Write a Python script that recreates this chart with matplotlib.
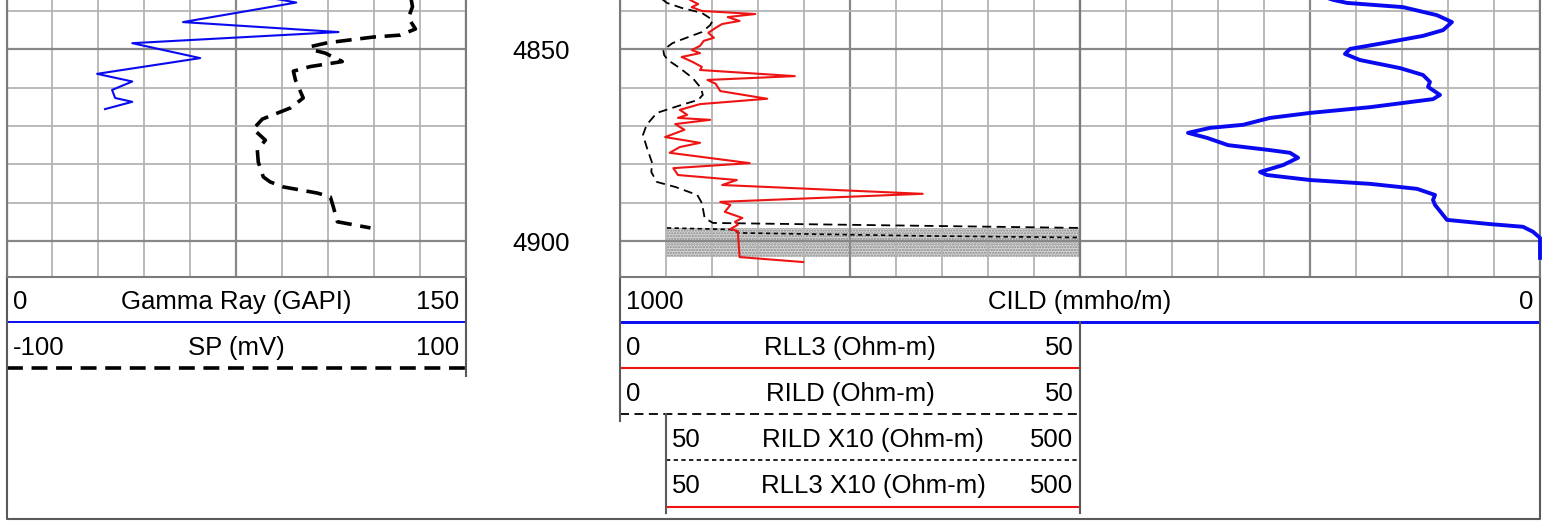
import numpy as np
import matplotlib
matplotlib.use("Agg")
import matplotlib.pyplot as plt
from matplotlib.ticker import MultipleLocator, FixedLocator

plt.rcParams['font.family'] = ['Liberation Sans', 'DejaVu Sans']
plt.rcParams['hatch.linewidth'] = 1.1

# ---------------- data ----------------
depth_top = 4837.14
depth_bottom = 4909.4
depth_labels = [4850, 4900]

gr_range = (0, 150)
sp_range = (-100, 100)
res_range = (0, 50)
res10_range = (50, 500)
cild_range = (1000, 0)

gr_depth = [4836.3, 4837.1, 4837.8, 4842.9, 4845.5, 4848.4, 4852.3, 4856.4,
            4858.4, 4860.6, 4862.7, 4863.7, 4865.6]
gr_value = [84.0, 89.8, 94.7, 57.7, 108.5, 41.1, 63.3, 29.6,
            41.1, 34.5, 35.5, 41.1, 32.2]

sp_depth = [4835.8, 4838.9, 4841.8, 4844.7, 4846.3, 4846.8, 4848.3, 4849.3,
            4850.2, 4851.0, 4853.2, 4854.5, 4855.7, 4858.0, 4862.7, 4865.3,
            4868.2, 4870.8, 4873.7, 4876.3, 4879.4, 4883.3, 4884.6, 4885.9,
            4887.5, 4888.5, 4891.1, 4895.0, 4896.6]
sp_value = [76.0, 76.9, 75.1, 78.2, 71.6, 59.9, 39.8, 32.4,
            33.7, 38.9, 46.3, 32.4, 25.0, 25.9, 29.3, 23.7,
            11.5, 7.5, 12.8, 9.3, 9.7, 11.9, 14.9, 20.6,
            35.4, 41.1, 42.4, 44.2, 58.6]

rll3_depth = [4836.4, 4837.1, 4838.2, 4839.0, 4840.0, 4840.8, 4841.6, 4842.6,
              4843.4, 4844.4, 4845.7, 4847.0, 4847.8, 4849.1, 4850.2, 4851.0,
              4852.0, 4853.3, 4854.6, 4855.4, 4857.0, 4858.0, 4859.0, 4860.9,
              4862.9, 4864.3, 4865.8, 4867.1, 4867.9, 4868.4, 4869.5, 4871.0,
              4872.9, 4874.4, 4875.5, 4877.0, 4879.7, 4881.0, 4882.8, 4884.1,
              4885.4, 4887.7, 4889.8, 4890.6, 4892.4, 4894.0, 4895.0, 4895.8,
              4896.9, 4897.4, 4904.2, 4905.5]
rll3_value = [7.4, 7.6, 8.5, 7.8, 8.9, 14.7, 11.7, 13.0,
              11.1, 10.4, 9.6, 10.2, 9.1, 8.7, 7.8, 8.7,
              6.7, 7.9, 8.9, 8.7, 19.0, 9.5, 10.4, 10.9,
              16.0, 8.7, 6.5, 7.3, 6.3, 9.8, 6.0, 7.0,
              4.9, 8.7, 6.5, 5.4, 14.1, 5.8, 6.3, 12.7,
              11.1, 32.9, 10.9, 12.0, 11.4, 13.3, 12.5, 12.8,
              12.0, 12.8, 13.0, 19.9]

rild_depth = [4836.4, 4837.9, 4839.2, 4840.5, 4842.4, 4843.7, 4845.5, 4847.1,
              4848.4, 4850.2, 4851.5, 4852.8, 4854.9, 4857.5, 4860.1, 4861.9,
              4863.2, 4864.5, 4866.6, 4869.7, 4872.3, 4875.5, 4879.7, 4882.0,
              4884.6, 4885.9, 4888.0, 4890.1, 4894.0, 4895.3, 4896.6, 4896.8,
              4905.0]
rild_value = [4.3, 5.1, 6.7, 8.9, 10.1, 9.8, 8.9, 7.1,
              5.7, 4.7, 4.8, 5.2, 6.5, 7.9, 8.8, 9.0,
              8.5, 6.7, 4.0, 2.9, 2.5, 2.9, 3.5, 3.4,
              4.0, 6.0, 8.4, 8.9, 9.2, 10.1, 50.0, 60.0,
              60.0]

rild10_depth = [4896.6, 4897.0, 4897.9, 4898.7, 4899.1, 4899.3, 4905.0]
rild10_value = [51.0, 120.0, 130.0, 337.0, 500.0, 600.0, 600.0]

shade_depth = [4896.7, 4904.3]
shade_value = [50.0, 500.0]

cild_depth = [4836.4, 4837.1, 4837.9, 4839.0, 4841.1, 4842.9, 4845.0, 4846.5,
              4848.4, 4849.9, 4851.2, 4852.8, 4854.9, 4856.7, 4858.5, 4859.8,
              4861.9, 4863.0, 4865.1, 4866.6, 4867.9, 4869.7, 4870.5, 4871.8,
              4873.1, 4875.0, 4876.3, 4877.0, 4878.3, 4880.2, 4882.0, 4882.8,
              4884.1, 4885.1, 4886.4, 4888.0, 4889.3, 4890.6, 4894.5, 4895.6,
              4896.3, 4897.6, 4899.2, 4904.4]
cild_value = [233.7, 225.0, 209.8, 148.9, 112.0, 95.7, 105.4, 127.2,
              170.7, 206.5, 212.0, 195.7, 152.2, 127.2, 119.6, 121.7,
              108.7, 116.3, 184.8, 250.0, 293.5, 322.8, 358.7, 382.6,
              362.0, 339.1, 293.5, 271.7, 263.0, 279.3, 304.3, 296.7,
              250.0, 184.8, 133.7, 114.1, 116.3, 114.1, 101.1, 54.3,
              18.5, 7.6, 0.0, 0.0]

# ---------------- styles ----------------
BLUE = '#0a0af0'
RED = '#ee1414'
GR_STYLE = dict(color=BLUE, lw=1.5)
SP_STYLE = dict(color='black', lw=2.6, linestyle=(0, (4.4, 2.4)))
RLL3_STYLE = dict(color=RED, lw=1.5)
RILD_STYLE = dict(color='black', lw=1.3, linestyle=(0, (5.0, 3.0)))
RILD10_STYLE = dict(color='black', lw=1.2, linestyle=(0, (2.6, 2.0)))
CILD_STYLE = dict(color=BLUE, lw=2.8)
CILD_HDR = dict(color=BLUE, lw=2.1)
FS = 18.5

W, H = 1548, 521
fig = plt.figure(figsize=(W / 100, H / 100), dpi=100)


def px_rect(x0, x1, y0, y1):
    return [x0 / W, 1 - y1 / H, (x1 - x0) / W, (y1 - y0) / H]


def make_track(rect, lo, hi):
    ax = fig.add_axes(rect)
    ax.set_xlim(lo, hi)
    ax.set_ylim(depth_bottom, depth_top)
    ax.xaxis.set_major_locator(FixedLocator([lo, (lo + hi) / 2, hi]))
    ax.xaxis.set_minor_locator(FixedLocator(list(np.linspace(lo, hi, 11))))
    ax.yaxis.set_major_locator(MultipleLocator(50))
    ax.yaxis.set_minor_locator(MultipleLocator(10))
    ax.grid(which='minor', color='#b4b4b4', linewidth=1.3)
    ax.grid(which='major', color='#888888', linewidth=1.6)
    ax.tick_params(which='both', length=0, labelbottom=False, labelleft=False)
    for s in ['left', 'right', 'bottom']:
        ax.spines[s].set_color('#7a7a7a')
        ax.spines[s].set_linewidth(1.5)
    ax.spines['top'].set_visible(False)
    return ax


TY0, TY1 = 0, 277

# track 1 : GR + SP
ax_gr = make_track(px_rect(6.5, 465.5, TY0, TY1), *gr_range)
ax_sp = ax_gr.twiny()
ax_sp.set_xlim(*sp_range)
ax_sp.axis('off')
ax_gr.plot(gr_value, gr_depth, **GR_STYLE)
ax_sp.plot(sp_value, sp_depth, **SP_STYLE)

# depth track
ax_d = fig.add_axes(px_rect(465.5, 620, TY0, TY1))
ax_d.set_xlim(0, 1)
ax_d.set_ylim(depth_bottom, depth_top)
ax_d.axis('off')
for d in depth_labels:
    ax_d.annotate(f"{d}", xy=(0.5, d), xytext=(-1.5, -7.3), textcoords='offset points',
                  ha='center', va='baseline', fontsize=FS)

# track 2 : resistivity
ax_res = make_track(px_rect(620, 1080, TY0, TY1), *res_range)
ax_res.fill_betweenx(shade_depth, shade_value[0] / 10, shade_value[1] / 10,
                     facecolor='#d6d6d6', edgecolor='#8a8a8a', hatch='......',
                     linewidth=0, zorder=0.8)
ax_res.plot(rild_value, rild_depth, **RILD_STYLE)
ax_res.plot(np.array(rild10_value) / 10, rild10_depth, **RILD10_STYLE)
ax_res.plot(rll3_value, rll3_depth, **RLL3_STYLE)

# track 3 grid (CILD right half)
ax_c3 = make_track(px_rect(1080, 1540, TY0, TY1), 500, 0)

# CILD overlay across tracks 2 and 3
ax_cild = fig.add_axes(px_rect(620, 1540, TY0, TY1))
ax_cild.set_xlim(*cild_range)
ax_cild.set_ylim(depth_bottom, depth_top)
ax_cild.axis('off')
ax_cild.patch.set_visible(False)
ax_cild.set_zorder(5)
ax_cild.plot(cild_value, cild_depth, clip_on=False, **CILD_STYLE)

# ---------------- header ----------------
ax_h = fig.add_axes([0, 0, 1, 1])
ax_h.set_xlim(0, W)
ax_h.set_ylim(H, 0)
ax_h.axis('off')
ax_h.patch.set_visible(False)
ax_h.set_zorder(-1)

headers = [
    ("Gamma Ray (GAPI)", gr_range, 6.5, 465.5, 309, 322, dict(color=BLUE, lw=1.4)),
    ("SP (mV)", sp_range, 6.5, 465.5, 355, 368, SP_STYLE),
    ("CILD (mmho/m)", cild_range, 620, 1540, 309, 322, CILD_HDR),
    ("RLL3 (Ohm-m)", res_range, 620, 1080, 355, 368, RLL3_STYLE),
    ("RILD (Ohm-m)", res_range, 620, 1080, 401, 414, RILD_STYLE),
    ("RILD X10 (Ohm-m)", res10_range, 666, 1080, 447, 460, RILD10_STYLE),
    ("RLL3 X10 (Ohm-m)", res10_range, 666, 1080, 493, 507, RLL3_STYLE),
]
for label, (lo, hi), x0, x1, ty, ly, st in headers:
    ax_h.text(x0 + 6, ty, f"{lo:g}", ha='left', va='baseline', fontsize=FS)
    ax_h.text((x0 + x1) / 2, ty, label, ha='center', va='baseline', fontsize=FS)
    ax_h.text(x1 - 6.5, ty, f"{hi:g}", ha='right', va='baseline', fontsize=FS)
    ax_h.plot([x0, x1], [ly, ly], solid_capstyle='butt', **st)

BORDER = dict(color='#5a5a5a', lw=1.5)
ax_h.plot([465.5, 465.5], [277, 376], **BORDER)
ax_h.plot([620, 620], [277, 421], **BORDER)
ax_h.plot([666, 666], [414, 513], **BORDER)
ax_h.plot([1080, 1080], [322, 513], **BORDER)
ax_h.plot([6.5, 6.5, 1540, 1540], [277, 519, 519, 277], **BORDER)

fig.savefig("out.png", dpi=100)
